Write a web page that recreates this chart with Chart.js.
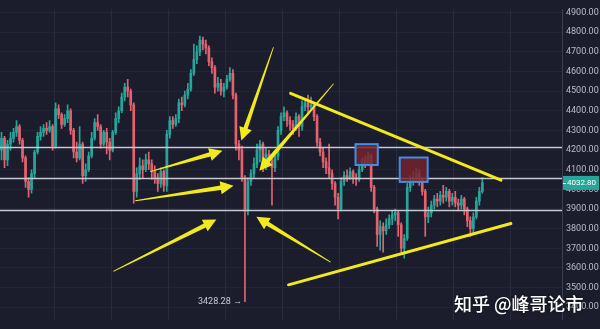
<!DOCTYPE html>
<html>
<head>
<meta charset="utf-8">
<script src="https://cdn.jsdelivr.net/npm/chart.js@4.4.0/dist/chart.umd.min.js"></script>
<style>
  html, body { margin: 0; padding: 0; background: #1b1d2d; }
</style>
</head>
<body>
<canvas id="btc" width="600" height="329"></canvas>
<script>
// --- OHLC candles ---
const opens = [
  4200,4260,4150,4230,4260,4290,4320,4250,4160,4040, 4000,4080,4190,4270,4290,4310,4300,4320,4220,4410,
  4380,4330,4360,4400,4300,4190,4160,4230,4070,4100, 4170,4260,4340,4320,4230,4290,4240,4200,4290,4360,
  4400,4470,4520,4500,4430,3990,4080,4120,4100,4150, 4130,4090,4060,4030,4090,4020,4280,4350,4330,4360,
  4440,4430,4480,4510,4590,4660,4700,4760,4740,4720, 4650,4620,4520,4540,4500,4520,4560,4590,4480,4230,
  4200,4060,3890,4040,4080,4130,4200,4230,4120,4180, 4150,4110,4170,4300,4370,4390,4350,4330,4310,4370,
  4320,4420,4440,4420,4430,4370,4240,4190,4140,4110, 4080,4030,3960,3900,4040,4070,4060,4090,4060,4050,
  4100,4150,4130,4170,4010,3900,3770,3810,3790,3820, 3850,3870,3880,3820,3700,3750,4010,4040,4060,4080,
  4050,3990,3860,3880,3920,3950,3940,3970,3960,3990, 3940,3960,3930,3920,3950,3900,3840,3800,3860,3940,
  3990
];
const highs = [
  4290,4270,4250,4290,4310,4350,4330,4260,4170,4060, 4100,4200,4290,4320,4330,4340,4350,4330,4440,4430,
  4390,4380,4430,4410,4310,4240,4320,4240,4130,4190, 4290,4360,4380,4330,4300,4310,4260,4300,4390,4420,
  4490,4540,4560,4510,4440,4110,4160,4150,4180,4190, 4150,4120,4080,4110,4100,4300,4370,4370,4380,4460,
  4470,4500,4540,4610,4740,4730,4780,4775,4760,4730, 4670,4630,4570,4560,4540,4580,4620,4610,4490,4250,
  4220,4070,4060,4100,4160,4230,4250,4240,4210,4200, 4170,4200,4320,4390,4420,4400,4370,4350,4390,4380,
  4450,4460,4480,4470,4440,4380,4260,4210,4160,4230, 4100,4040,3980,4060,4090,4100,4110,4100,4080,4120,
  4160,4170,4190,4180,4020,3910,3840,3830,3850,3870, 3890,3900,3890,3830,3770,4030,4070,4090,4110,4100,
  4060,4000,3910,3940,3970,3980,3990,4020,4010,4000, 3980,3990,3950,3970,3960,3910,3860,3880,3960,4010,
  4060
];
const lows = [
  4150,4110,4120,4200,4240,4270,4230,4140,4010,3960, 3980,4060,4180,4250,4270,4280,4290,4200,4210,4360,
  4310,4320,4340,4280,4160,4140,4150,4030,4040,4090, 4160,4250,4300,4210,4220,4180,4150,4190,4280,4340,
  4390,4450,4470,4400,3930,3960,4050,4060,4090,4100, 4050,4030,3990,4010,3990,3990,4260,4310,4320,4340,
  4400,4420,4460,4500,4580,4640,4680,4710,4690,4630, 4590,4490,4500,4480,4470,4510,4550,4460,4200,4150,
  4040,3428.28,3870,4020,4060,4110,4140,4090,4100,4120, 3920,4090,4150,4280,4350,4320,4300,4280,4300,4270,
  4300,4400,4390,4400,4350,4220,4170,4110,4080,4060, 4000,3920,3850,3890,4020,4040,4050,4030,4020,4040,
  4090,4110,4120,3990,3880,3710,3690,3680,3770,3800, 3820,3840,3760,3680,3650,3740,3990,4020,4040,4020,
  3970,3760,3830,3860,3900,3910,3920,3930,3940,3910, 3920,3910,3890,3900,3870,3810,3760,3770,3850,3920,
  3980
];
const closes = [
  4260,4150,4230,4260,4290,4320,4250,4160,4040,4000, 4080,4190,4270,4290,4310,4300,4320,4220,4410,4380,
  4330,4360,4400,4300,4190,4160,4230,4070,4100,4170, 4260,4340,4320,4230,4290,4240,4200,4290,4360,4400,
  4470,4520,4500,4430,3990,4080,4120,4100,4150,4130, 4090,4060,4030,4090,4020,4280,4350,4330,4360,4440,
  4430,4480,4510,4590,4660,4700,4760,4740,4720,4650, 4620,4520,4540,4500,4520,4560,4590,4480,4230,4200,
  4060,3890,4040,4080,4130,4200,4230,4120,4180,4150, 4110,4170,4300,4370,4390,4350,4330,4310,4370,4320,
  4420,4440,4420,4430,4370,4240,4190,4140,4110,4080, 4030,3960,3900,4040,4070,4060,4090,4060,4050,4100,
  4150,4130,4170,4010,3900,3770,3810,3790,3820,3850, 3870,3880,3820,3700,3750,4010,4040,4060,4080,4050,
  3990,3860,3880,3920,3950,3940,3970,3960,3990,3940, 3960,3930,3920,3950,3900,3840,3800,3860,3940,3990,
  4032.80
];
const slotCount = 187;           // candle slots incl. empty space on the right
const yTicks = [3400,3500,3600,3700,3800,3900,4000,4100,4200,4300,4400,4500,4600,4700,4800,4900];

// --- drawings, in (candle index, price) ---
const levels = [4215, 4057, 3893];
const boxes = [
  { from: [117.8, 4230], to: [125.2, 4124] },
  { from: [132.5, 4162], to: [141.8, 4038] }
];
const trendLines = [
  { from: [96.2, 4489], to: [166.2, 4047] },
  { from: [95.5, 3514], to: [169.5, 3826] }
];
const arrows = [
  { tail: [49.5, 4090], tip: [73.5, 4196] },
  { tail: [44.5, 3942], tip: [77.2, 4018] },
  { tail: [37.2, 3582], tip: [71.5, 3846] },
  { tail: [109.5, 3630], tip: [84.8, 3860] },
  { tail: [90.5, 4724], tip: [79.8, 4249] },
  { tail: [110.5, 4537], tip: [85.8, 4095] }
];
const lowIndex = 81;

const UP = '#26a69a';
const DOWN = '#e3626d';
const YELLOW = '#f2ea1c';

const labels = Array.from({ length: slotCount }, (_, i) => String(i));
const bodies = opens.map((o, i) => [o, closes[i]]);
const wicks = lows.map((l, i) => [l, highs[i]]);
const candleColors = opens.map((o, i) => closes[i] >= o ? UP : DOWN);

function drawArrow(ctx, t, p) {
  const dx = p.x - t.x, dy = p.y - t.y;
  const len = Math.hypot(dx, dy);
  const ux = dx / len, uy = dy / len;
  const nx = -uy, ny = ux;
  const headLen = 13, headW = 6.5, shaftW = 2.2, tailW = 0.4;
  const bx = p.x - ux * headLen, by = p.y - uy * headLen;
  ctx.beginPath();
  ctx.moveTo(t.x + nx * tailW, t.y + ny * tailW);
  ctx.lineTo(bx + nx * shaftW, by + ny * shaftW);
  ctx.lineTo(bx + nx * headW, by + ny * headW);
  ctx.lineTo(p.x, p.y);
  ctx.lineTo(bx - nx * headW, by - ny * headW);
  ctx.lineTo(bx - nx * shaftW, by - ny * shaftW);
  ctx.lineTo(t.x - nx * tailW, t.y - ny * tailW);
  ctx.closePath();
  ctx.fill();
}

const overlay = {
  id: 'overlay',
  beforeDraw(chart) {
    const ctx = chart.ctx;
    ctx.save();
    ctx.fillStyle = '#1b1d2d';
    ctx.fillRect(0, 0, chart.width, chart.height);
    ctx.restore();
  },
  afterDatasetsDraw(chart) {
    const { ctx, chartArea: a, scales: { x, y } } = chart;
    const pt = ([i, v]) => ({ x: x.getPixelForValue(i), y: y.getPixelForValue(v) });
    ctx.save();

    // support / resistance levels
    ctx.strokeStyle = '#c6c8d2';
    ctx.lineWidth = 1.3;
    levels.forEach(v => {
      const py = Math.round(y.getPixelForValue(v)) + 0.5;
      ctx.beginPath();
      ctx.moveTo(a.left, py);
      ctx.lineTo(a.right, py);
      ctx.stroke();
    });

    // marked zones
    boxes.forEach(b => {
      const p1 = pt(b.from), p2 = pt(b.to);
      ctx.fillStyle = 'rgba(118,34,44,0.82)';
      ctx.fillRect(p1.x, p1.y, p2.x - p1.x, p2.y - p1.y);
      ctx.strokeStyle = '#3f8fe6';
      ctx.lineWidth = 2;
      ctx.strokeRect(p1.x, p1.y, p2.x - p1.x, p2.y - p1.y);
    });

    // triangle
    ctx.strokeStyle = YELLOW;
    ctx.lineWidth = 3;
    ctx.lineCap = 'round';
    trendLines.forEach(l => {
      const p1 = pt(l.from), p2 = pt(l.to);
      ctx.beginPath();
      ctx.moveTo(p1.x, p1.y);
      ctx.lineTo(p2.x, p2.y);
      ctx.stroke();
    });

    ctx.fillStyle = YELLOW;
    arrows.forEach(ar => drawArrow(ctx, pt(ar.tail), pt(ar.tip)));

    // lowest low marker
    ctx.font = '9px Roboto';
    ctx.fillStyle = '#c9ccd6';
    ctx.textAlign = 'right';
    ctx.textBaseline = 'middle';
    ctx.fillText(lows[lowIndex].toFixed(2) + ' \u2192', x.getPixelForValue(lowIndex) - 3, y.getPixelForValue(lows[lowIndex]));

    // last price tag
    const last = closes[closes.length - 1];
    const ly = y.getPixelForValue(last);
    ctx.fillStyle = UP;
    ctx.fillRect(a.right + 1, ly - 7, 36, 14);
    ctx.fillStyle = '#ffffff';
    ctx.fillRect(a.right + 1, Math.round(ly), 3, 1);
    ctx.font = '8px Roboto';
    ctx.textAlign = 'left';
    ctx.fillText(last.toFixed(2), a.right + 5, ly + 0.5);

    // watermark
    ctx.font = '500 18px "Noto Sans CJK SC"';
    ctx.textBaseline = 'alphabetic';
    ctx.shadowColor = 'rgba(0,0,0,0.6)';
    ctx.shadowBlur = 3;
    ctx.fillStyle = '#ffffff';
    ctx.fillText('知乎 @峰哥论市', 454, 311);
    ctx.restore();
  }
};

new Chart(document.getElementById('btc'), {
  type: 'bar',
  data: {
    labels,
    datasets: [
      { data: wicks, backgroundColor: candleColors, barThickness: 1, grouped: false, order: 2 },
      { data: bodies, backgroundColor: candleColors, barThickness: 2, minBarLength: 1, grouped: false, order: 1 }
    ]
  },
  options: {
    responsive: false,
    animation: false,
    layout: { padding: 0, autoPadding: false },
    plugins: { legend: { display: false }, tooltip: { enabled: false } },
    scales: {
      x: {
        ticks: { display: false, autoSkip: false },
        grid: {
          drawTicks: false,
          color: c => c.index % 19 === 18 ? 'rgba(60,64,84,0.4)' : 'transparent'
        },
        border: { display: false }
      },
      y: {
        position: 'right',
        min: 3337,
        max: 4916,
        afterBuildTicks: s => { s.ticks = yTicks.map(v => ({ value: v })); },
        afterFit: s => { s.width = 38; },
        ticks: {
          color: '#b9bdcb',
          font: { family: 'Roboto', size: 9 },
          padding: 4,
          callback: v => Number(v).toFixed(2)
        },
        grid: { drawTicks: false, color: 'rgba(50,54,74,0.3)' },
        border: { color: '#3a3e52' }
      }
    }
  },
  plugins: [overlay]
});
</script>
</body>
</html>
